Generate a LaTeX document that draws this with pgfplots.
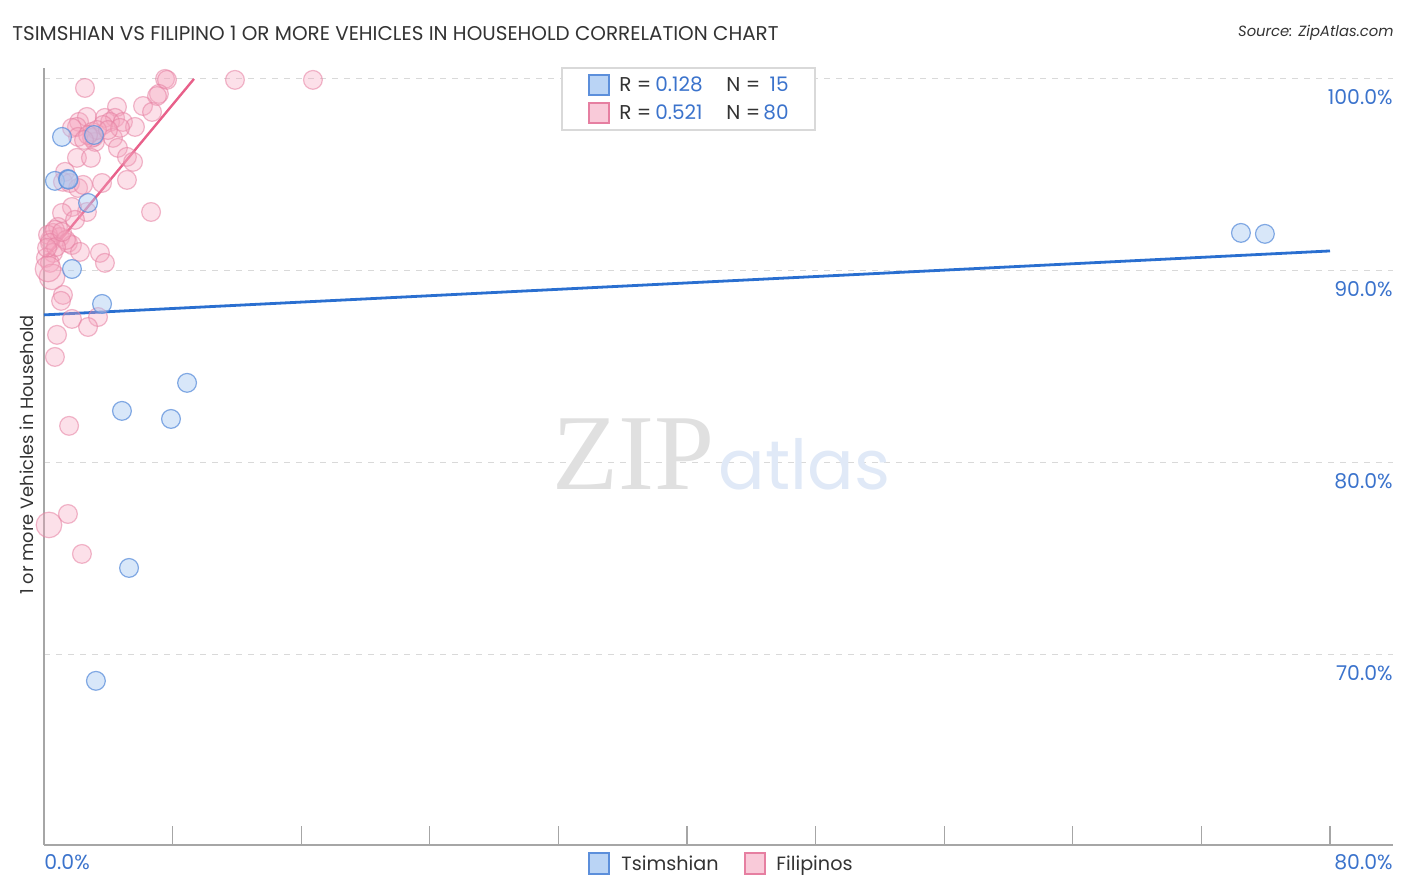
\documentclass[border=0pt]{standalone}
\usepackage{pgfplots}
\pgfplotsset{compat=1.18}
\usepackage{fontspec}
\setmainfont{Poppins}
\newfontfamily\wmserif{Liberation Serif}

\definecolor{txt}{HTML}{333333}
\definecolor{valblue}{HTML}{3B73CC}
\definecolor{ptblue}{HTML}{A9C9F2}
\definecolor{edblue}{HTML}{5C8FDB}
\definecolor{lnblue}{HTML}{2A6FD0}
\definecolor{ptpink}{HTML}{F5A6BF}
\definecolor{edpink}{HTML}{E67FA1}
\definecolor{lnpink}{HTML}{E8608A}

\begin{document}
\begin{tikzpicture}[x=0.5pt,y=0.5pt]
\useasboundingbox (0,0) rectangle (1406,892);

\begin{axis}[
  at={(22pt,23.5pt)}, anchor=south west,
  scale only axis,
  width=674.5pt, height=388.5pt,
  xmin=0, xmax=83.92,
  ymin=60.1, ymax=100.57,
  axis x line*=bottom, axis y line*=left,
  axis line style={-, draw=black!35, line width=0.8pt},
  xtick={0,8,...,80}, xticklabels={},
  ytick={70,80,90,100}, yticklabels={},
  tick align=inside,
  x tick style={draw=black!35, line width=0.6pt},
  y tick style={draw=none},
  major tick length=9.5pt,
  ymajorgrids=true,
  grid style={dashed, draw=black!15, line width=0.5pt},
  clip=false,
]

% watermark
\node[text=black!12, font=\wmserif\fontsize{54pt}{54pt}\selectfont, anchor=base east, inner sep=0pt]
  at (axis cs:41.74,78.6) {ZIP};
\node[text=valblue!16, font=\fontsize{34.5pt}{36pt}\selectfont, anchor=base west, inner sep=0pt]
  at (axis cs:41.95,78.6) {atlas};

% Filipinos
\addplot[only marks, mark=*, mark size=4.7pt,
  mark options={fill=ptpink, fill opacity=0.35, draw=edpink, draw opacity=0.55, line width=0.6pt}]
coordinates {
(2.55,99.53)(7.53,100.0)(7.65,99.95)(11.88,99.95)(16.73,99.95)(7.15,99.22)(7.03,99.11)
(6.16,98.59)(6.72,98.28)(4.54,98.54)(2.18,97.76)(2.67,98.02)(2.05,97.50)(1.74,97.45)
(3.79,97.97)(4.42,97.97)(4.11,97.76)(4.91,97.76)(3.67,97.60)(5.66,97.50)(2.99,97.24)
(3.11,96.98)(3.17,96.72)(2.99,96.93)(2.12,96.98)(4.29,96.93)(4.60,96.41)(5.16,95.94)
(5.54,95.68)(2.05,95.89)(2.92,95.89)(1.31,95.16)(1.18,94.64)(1.62,94.58)(2.12,94.32)
(2.43,94.48)(3.61,94.58)(5.16,94.74)(2.67,93.07)(6.66,93.07)(1.74,93.33)(1.12,93.02)
(1.93,92.66)(0.87,92.29)(0.56,91.98)(1.00,91.77)(0.37,91.61)(0.25,91.88)(0.68,92.14)
(0.37,91.46)(1.49,91.46)(1.74,91.35)(2.24,90.99)(0.56,90.94)(0.12,90.68)(3.48,90.94)
(3.79,90.42)(0.37,90.42)(1.18,88.75)(1.06,88.44)(1.74,87.50)(3.36,87.60)(2.74,87.08)
(0.81,86.67)(0.68,85.52)(1.56,81.93)(1.49,77.34)(2.36,75.26)
(3.30,97.34)(4.73,97.45)(1.37,91.61)(0.75,91.25)(2.74,97.08)(3.98,97.34)(1.12,92.03)
(2.49,96.82)(0.19,91.20)
};
\addplot[only marks, mark=*, mark size=6.4pt,
  mark options={fill=ptpink, fill opacity=0.35, draw=edpink, draw opacity=0.55, line width=0.6pt}]
coordinates {(0.50,89.69)(0.25,90.10)(0.31,76.77)};

% Tsimshian
\addplot[only marks, mark=*, mark size=4.7pt,
  mark options={fill=ptblue, fill opacity=0.45, draw=edblue, draw opacity=0.75, line width=0.6pt}]
coordinates {
(1.12,96.98)(3.11,97.08)(0.68,94.69)(1.49,94.79)(2.74,93.54)(1.74,90.10)(3.61,88.28)
(8.90,84.17)(4.85,82.71)(7.90,82.29)(5.29,74.53)(3.23,68.65)(74.46,91.98)(75.95,91.93)
(1.52,94.75)
};

% trend lines
\addplot[lnpink, line width=1.2pt] coordinates {(0.15,90.74)(9.33,100.0)};
\addplot[lnblue, line width=1.4pt] coordinates {(0,87.71)(80,91.04)};

% right tick labels
\pgfplotsinvokeforeach{70,80,90,100}{
  \node[anchor=east, text=valblue, font=\fontsize{10.2pt}{12pt}\selectfont, inner sep=0pt]
    at (axis cs:83.92,#1) [yshift=-9pt] {#1.0\%};
}
\end{axis}

% bottom x labels
\node[anchor=base west, text=valblue, font=\fontsize{10.2pt}{12pt}\selectfont, inner sep=0pt] at (44,22) {0.0\%};
\node[anchor=base east, text=valblue, font=\fontsize{10.2pt}{12pt}\selectfont, inner sep=0pt] at (1393,22) {80.0\%};

% title and source
\node[anchor=west, text=txt, font=\fontsize{9.95pt}{12pt}\selectfont, inner sep=0pt] at (12,859) {TSIMSHIAN VS FILIPINO 1 OR MORE VEHICLES IN HOUSEHOLD CORRELATION CHART};
\node[anchor=east, text=txt, font=\fontsize{7.4pt}{9pt}\selectfont\itshape, inner sep=0pt] at (1394,859) {Source: ZipAtlas.com};

% y label
\node[rotate=90, text=txt, font=\fontsize{8.9pt}{10pt}\selectfont, inner sep=0pt] at (27,437) {1 or more Vehicles in Household};

% top legend
\draw[black!15, line width=0.6pt, fill=white] (562,762) rectangle (815,824);
\draw[edblue, fill=ptblue!80, line width=0.6pt] (589,797) rectangle (609,817);
\draw[edpink, fill=ptpink!60, line width=0.6pt] (589,769) rectangle (609,789);
\node[anchor=base west, inner sep=0pt, text=txt, font=\fontsize{10pt}{12pt}\selectfont] at (619,800) {R = };
\node[anchor=base west, inner sep=0pt, text=valblue, font=\fontsize{10pt}{12pt}\selectfont] at (655,800) {0.128};
\node[anchor=base west, inner sep=0pt, text=txt, font=\fontsize{10pt}{12pt}\selectfont] at (726,800) {N = };
\node[anchor=base east, inner sep=0pt, text=valblue, font=\fontsize{10pt}{12pt}\selectfont] at (789,800) {15};
\node[anchor=base west, inner sep=0pt, text=txt, font=\fontsize{10pt}{12pt}\selectfont] at (619,772) {R = };
\node[anchor=base west, inner sep=0pt, text=valblue, font=\fontsize{10pt}{12pt}\selectfont] at (655,772) {0.521};
\node[anchor=base west, inner sep=0pt, text=txt, font=\fontsize{10pt}{12pt}\selectfont] at (726,772) {N = };
\node[anchor=base east, inner sep=0pt, text=valblue, font=\fontsize{10pt}{12pt}\selectfont] at (789,772) {80};

% bottom legend
\draw[edblue, fill=ptblue!80, line width=0.6pt] (589,18) rectangle (609,39);
\node[anchor=base west, inner sep=0pt, text=txt, font=\fontsize{9.6pt}{11pt}\selectfont] at (621,21) {Tsimshian};
\draw[edpink, fill=ptpink!60, line width=0.6pt] (745,18) rectangle (765,39);
\node[anchor=base west, inner sep=0pt, text=txt, font=\fontsize{9.6pt}{11pt}\selectfont] at (776,21) {Filipinos};
\end{tikzpicture}
\end{document}
